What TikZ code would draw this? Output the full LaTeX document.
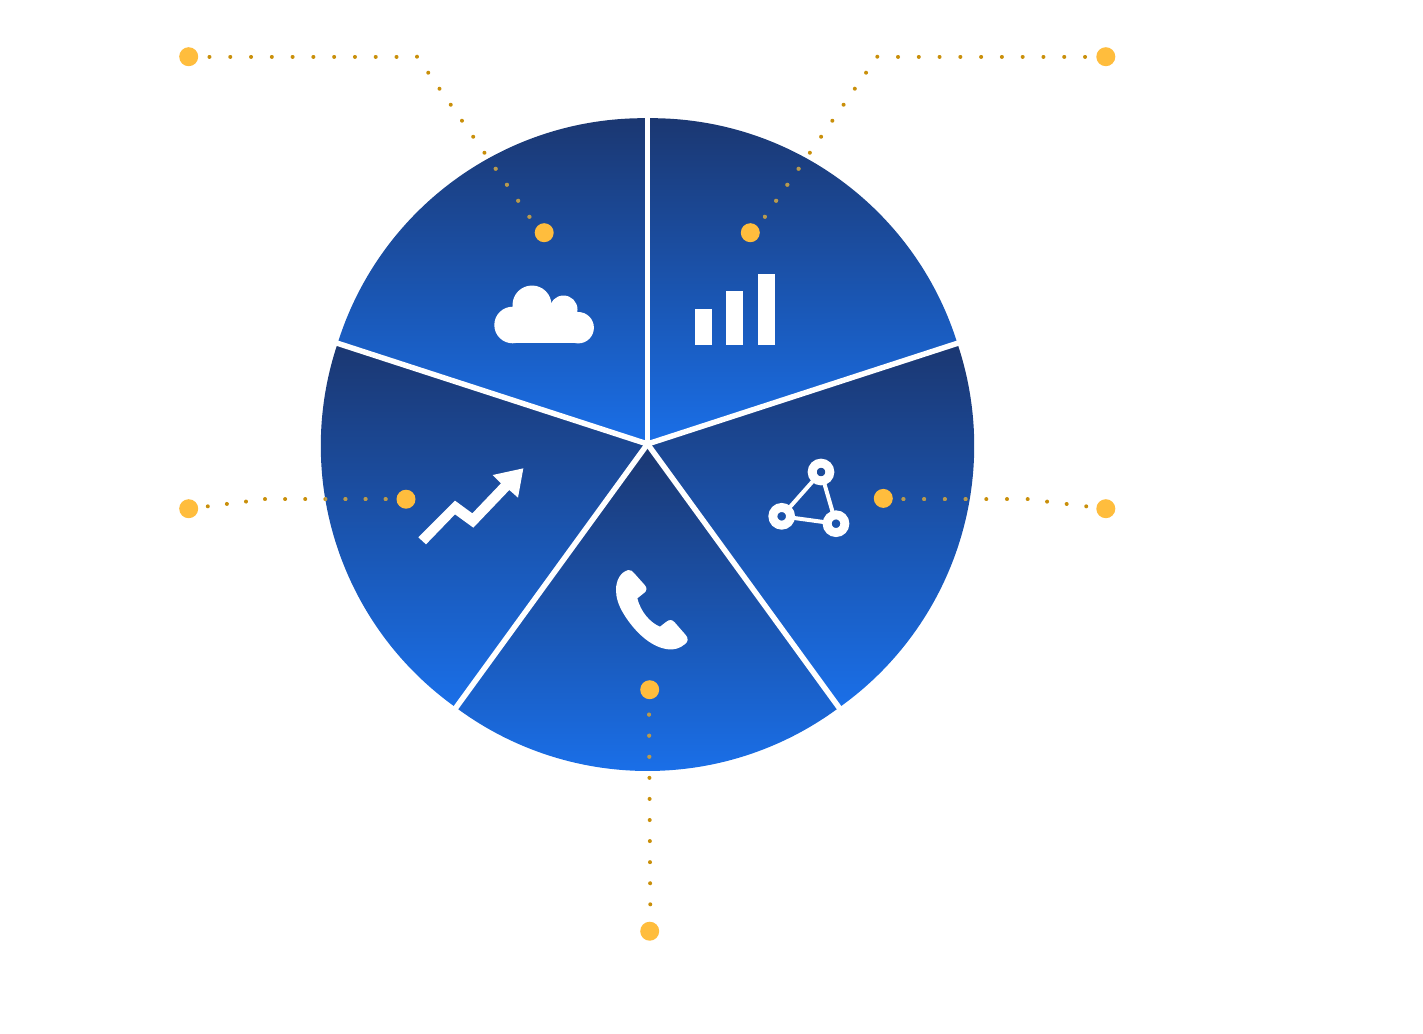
\documentclass[tikz,border=0pt]{standalone}
\pgfdeclarelayer{bg}
\pgfsetlayers{bg,main}
\definecolor{hubcol}{HTML}{FFBD3D}
\definecolor{goldcol}{HTML}{C98F0A}
\definecolor{tancol}{HTML}{B59A55}
\definecolor{topblue}{HTML}{1B3771}
\definecolor{botblue}{HTML}{1A6FE8}
\colorlet{wirecol}{goldcol}
\tikzset{
  hub/.style={circle,fill=hubcol,draw=none,inner sep=0pt,minimum size=19pt},
  wire/.style={draw=wirecol,line width=4pt,line cap=round,dash pattern=on 0.01pt off #1},
  sep/.style={draw=white,line width=5.5pt},
  icon/.style={fill=white,draw=none},
  ring/.style={circle,draw=white,line width=8.9pt,inner sep=0pt,outer sep=0pt,minimum size=17.7pt},
  link/.style={draw=white,line width=4pt},
}
\newcommand{\wedgefill}[3]{% start angle, top y, bottom y
  \begin{scope}
    \clip (c) -- ++(#1:325.8pt) arc[start angle=#1-0.64,end angle=#1+72.64,radius=320.9pt] -- cycle;
    \shade[top color=topblue,bottom color=botblue] (300,#2) rectangle (1000,#3);
  \end{scope}}
\newcommand{\allwires}{%
  \draw[wire=20.77pt] (tlo.center) -- (tlb);
  \draw[wire=19.55pt] (tlb) -- (tle);
  \draw[wire=20.77pt] (tro.center) -- (trb);
  \draw[wire=19.55pt] (trb) -- (tre);
  \draw[wire=19.23pt] (lo.center) -- (lb);
  \draw[wire=20.1pt] (lb) -- (li.center);
  \draw[wire=19.7pt] (ro.center) -- (rb);
  \draw[wire=20.7pt] (rb) -- (re);
  \draw[wire=21.07pt] (bs) -- (be);
}
\begin{document}
\begin{tikzpicture}[x=1pt,y=-1pt]
\useasboundingbox (0,0) rectangle (1423,1033);
\coordinate (c) at (647.5,444);
% hubs
\node[hub] (tlo) at (188.7,56.7) {};
\node[hub] (tli) at (544.2,232.7) {};
\node[hub] (tro) at (1105.8,56.7) {};
\node[hub] (tri) at (750.3,232.7) {};
\node[hub] (lo) at (188.7,508.7) {};
\node[hub] (li) at (406,499.2) {};
\node[hub] (ro) at (1105.8,508.7) {};
\node[hub] (ri) at (883.3,498.4) {};
\node[hub] (bo) at (649.7,931.2) {};
\node[hub] (bi) at (649.7,689.7) {};
% bends and hidden line ends
\coordinate (tlb) at (417,56.7);
\coordinate (tle) at (540.6,232.7);
\coordinate (trb) at (877.3,56.7);
\coordinate (tre) at (753.7,232.7);
\coordinate (lb) at (265,499.2);
\coordinate (rb) at (1027.7,499.3);
\coordinate (re) at (883.3,499.3);
\coordinate (bs) at (650.4,925.4);
\coordinate (be) at (648.9,693.6);
\begin{pgfonlayer}{bg}
  \wedgefill{90}{117}{444}
  \wedgefill{18}{117}{444}
  \wedgefill{-54}{343}{706}
  \wedgefill{-126}{444}{771}
  \wedgefill{162}{343}{706}
  \draw[sep] (c) -- ++(90:328pt);
  \draw[sep] (c) -- ++(18:328pt);
  \draw[sep] (c) -- ++(-54:328pt);
  \draw[sep] (c) -- ++(-126:328pt);
  \draw[sep] (c) -- ++(162:328pt);
  \allwires
  \colorlet{wirecol}{tancol}
  \begin{scope}
    \clip (c) circle[radius=327pt];
    \allwires
  \end{scope}
\end{pgfonlayer}
% cloud
\fill[icon] (512.6,325) circle[radius=18.3pt];
\fill[icon] (532,305) circle[radius=19.5pt];
\fill[icon] (563.5,309.5) circle[radius=14pt];
\fill[icon] (578.2,327.7) circle[radius=15.7pt];
\fill[icon] (512.6,312) rectangle (578.2,343.3);
% bars
\fill[icon] (694.8,309.3) rectangle (711.7,345.4);
\fill[icon] (726,291.3) rectangle (743,345.4);
\fill[icon] (758,273.7) rectangle (775,345.4);
% arrow
\begin{scope}[shift={(400,450)},x=0.33333pt,y=-0.33333pt]
\fill[icon] (55,262) -- (165,152) -- (217,190) -- (303,100) -- (278,75) -- (370,55) -- (354,143) -- (328,120) -- (220,233) -- (165,193) -- (78,283) -- cycle;
\end{scope}
% phone
\begin{scope}[shift={(600,560)},x=0.33333pt,y=-0.33333pt]
\fill[icon] (48,90) .. controls (48,60) and (62,36) .. (85,30)
 .. controls (92,29) and (98,34) .. (102,39)
 -- (135,76) .. controls (142,85) and (140,93) .. (132,99)
 -- (112,115) .. controls (122,155) and (150,188) .. (180,200)
 -- (198,186) .. controls (208,178) and (216,178) .. (224,187)
 -- (258,226) .. controls (266,236) and (264,246) .. (254,253)
 .. controls (240,265) and (222,270) .. (205,268)
 .. controls (150,262) and (100,210) .. (70,160)
 .. controls (55,135) and (48,112) .. (48,90) -- cycle;
\end{scope}
% network
\node[ring] (na) at (821,472) {};
\node[ring] (nb) at (781.7,516.3) {};
\node[ring] (nc) at (836,523.7) {};
\draw[link] (na) -- (nb);
\draw[link] (nb) -- (nc);
\draw[link] (nc) -- (na);
\end{tikzpicture}
\end{document}
